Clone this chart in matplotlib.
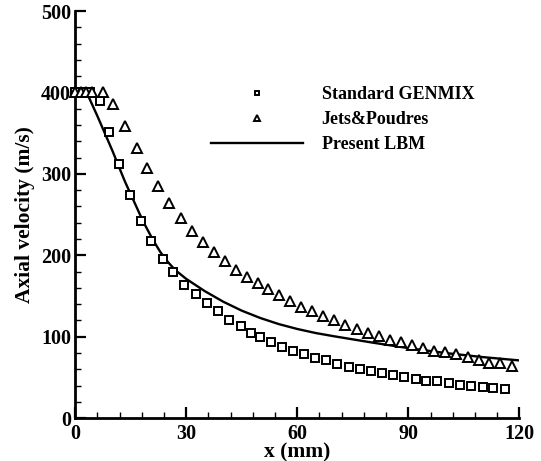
import matplotlib
matplotlib.use("Agg")
import matplotlib.pyplot as plt
from matplotlib.ticker import MultipleLocator

# Standard GENMIX (squares)
genmix_x = [0, 1, 2, 3, 4, 6.7, 9.2, 11.8, 14.7, 17.7, 20.6, 23.6, 26.5, 29.5, 32.6, 35.5,
            38.6, 41.6, 44.7, 47.5, 49.9, 52.8, 55.8, 58.9, 61.9, 64.8, 67.8, 70.8,
            74.0, 76.9, 79.8, 82.9, 85.9, 88.9, 92.0, 94.7, 97.8, 101.0, 104.0,
            106.9, 110.1, 113.0, 116.1]
genmix_y = [400, 400, 400, 400, 400, 390, 351, 312, 274, 242, 218, 196, 179, 164, 152, 141,
            131, 121, 113, 105, 100, 93, 87, 83, 79, 74, 71, 66,
            63, 60, 58, 55, 53, 50, 48, 46, 45, 43, 41,
            39.5, 38, 36.7, 35.4]

# Jets&Poudres (triangles)
jets_x = [0, 1.5, 3, 4.5, 7.4, 10.3, 13.4, 16.6, 19.5, 22.4, 25.4, 28.5, 31.5, 34.4, 37.5,
          40.5, 43.4, 46.3, 49.5, 52.2, 55.1, 58.0, 61.0, 64.0, 67.0, 70.0, 72.9,
          76.1, 79.2, 82.1, 85.1, 88.0, 91.1, 94.1, 96.9, 99.9, 102.9, 106.0,
          109.0, 111.8, 114.8, 117.9]
jets_y = [400, 400, 400, 400, 400, 386, 359, 332, 307, 285, 264, 246, 230, 216, 204,
          193, 182, 173, 166, 158, 151, 144, 137, 132, 126, 120, 115,
          109, 105, 101, 96, 93, 90, 86, 83, 81, 78.6, 75,
          71.6, 68.3, 67.5, 64.2]

# Present LBM (line)
lbm_x = [0, 3.1, 6, 10, 13.4, 17.5, 19, 21, 23, 25, 27, 30, 35, 40, 45, 50,
         55, 60, 65, 70, 80, 90, 100, 110, 119.7]
lbm_y = [400, 400, 371, 329, 291, 250, 236, 219, 204, 192, 182, 171, 156, 143, 132, 123,
         115.5, 109.5, 104.5, 100.5, 93, 86, 80, 75, 71]

plt.rcParams['font.family'] = ['Liberation Serif', 'DejaVu Serif']
plt.rcParams['font.weight'] = 'bold'

fig = plt.figure(figsize=(5.41, 4.61), dpi=100)
ax = fig.add_axes([0.139, 0.093, 0.821, 0.883])

ax.plot(genmix_x, genmix_y, linestyle='none', marker='s', markersize=6,
        markerfacecolor='white', markeredgecolor='black', markeredgewidth=1.4,
        clip_on=False, label='Standard GENMIX', zorder=3)
ax.plot(jets_x, jets_y, linestyle='none', marker='^', markersize=7,
        markerfacecolor='white', markeredgecolor='black', markeredgewidth=1.4,
        clip_on=False, label='Jets&Poudres', zorder=3)
ax.plot(lbm_x, lbm_y, color='black', linewidth=1.7, label='Present LBM', zorder=2)

ax.set_xlim(0, 120)
ax.set_ylim(0, 500)
ax.xaxis.set_major_locator(MultipleLocator(30))
ax.xaxis.set_minor_locator(MultipleLocator(6))
ax.yaxis.set_major_locator(MultipleLocator(100))
ax.yaxis.set_minor_locator(MultipleLocator(20))

for s in ['top', 'right']:
    ax.spines[s].set_visible(False)
for s in ['left', 'bottom']:
    ax.spines[s].set_linewidth(2)

ax.tick_params(which='major', direction='in', length=8, width=1.6, labelsize=14.5)
ax.tick_params(axis='y', which='major', pad=3)
ax.tick_params(axis='x', which='major', pad=4)
ax.tick_params(which='minor', direction='in', length=4, width=1.0)
for lab in ax.get_xticklabels() + ax.get_yticklabels():
    lab.set_fontweight('bold')

ax.set_xlabel('x (mm)', fontsize=15.5, fontweight='bold', labelpad=-1)
ax.set_ylabel('Axial velocity (m/s)', fontsize=15.5, fontweight='bold', labelpad=4)

leg = ax.legend(loc='upper left', bbox_to_anchor=(0.27, 0.856), frameon=False,
                prop={'weight': 'bold', 'size': 13}, handlelength=5.1,
                handletextpad=1.0, labelspacing=0.45, markerscale=0.6)

fig.savefig('out.png', dpi=100)
